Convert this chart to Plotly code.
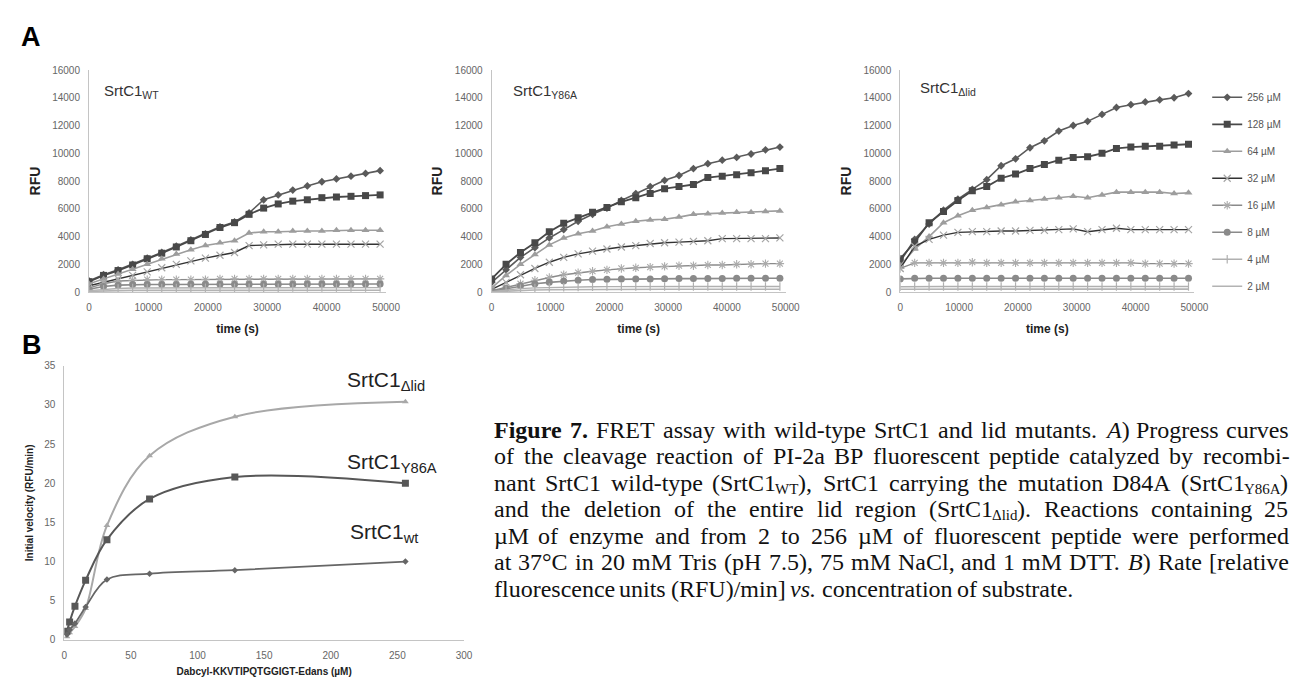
import plotly.graph_objects as go

W, H = 1305, 688


def px(x):
    return x / W


def py(y):
    return 1 - y / H


# ---------------- data ----------------
times = [0, 2450, 4900, 7350, 9800, 12250, 14700, 17150, 19600, 22050, 24500,
         26950, 29400, 31850, 34300, 36750, 39200, 41650, 44100, 46550, 49000]
conc_labels = ["256 µM", "128 µM", "64 µM", "32 µM", "16 µM", "8 µM", "4 µM", "2 µM"]

# SrtC1 WT progress curves (RFU)
wt_256 = [800, 1250, 1600, 2000, 2450, 2850, 3300, 3750, 4200, 4700, 5050, 5700, 6650, 7000, 7350, 7650, 7950, 8150, 8350, 8550, 8750]
wt_128 = [750, 1200, 1550, 1950, 2400, 2800, 3250, 3700, 4150, 4650, 5000, 5600, 6050, 6350, 6550, 6650, 6800, 6850, 6900, 6950, 7000]
wt_64 = [600, 950, 1300, 1650, 2000, 2400, 2750, 3050, 3350, 3550, 3700, 4250, 4350, 4350, 4400, 4400, 4400, 4450, 4450, 4450, 4450]
wt_32 = [450, 700, 950, 1200, 1450, 1750, 2000, 2250, 2450, 2650, 2850, 3350, 3400, 3450, 3450, 3450, 3450, 3450, 3450, 3450, 3450]
wt_16 = [300, 600, 800, 850, 900, 900, 900, 900, 900, 950, 950, 950, 950, 950, 950, 950, 950, 950, 950, 950, 950]
wt_8 = [200, 400, 500, 550, 550, 550, 550, 560, 560, 560, 570, 570, 570, 570, 570, 580, 580, 580, 580, 580, 580]
wt_4 = [100, 200, 260, 290, 300, 300, 300, 300, 310, 310, 310, 310, 310, 310, 320, 320, 320, 320, 320, 320, 320]
wt_2 = [50, 90, 110, 120, 120, 120, 120, 120, 120, 120, 125, 125, 125, 125, 125, 130, 130, 130, 130, 130, 130]

# SrtC1 Y86A progress curves (RFU)
y86a_256 = [700, 1600, 2500, 3200, 3900, 4500, 5100, 5600, 6050, 6600, 7100, 7600, 8050, 8400, 8900, 9250, 9500, 9700, 9950, 10250, 10450]
y86a_128 = [950, 2000, 2850, 3550, 4350, 4950, 5350, 5750, 6100, 6500, 6800, 7100, 7450, 7600, 7750, 8250, 8350, 8450, 8600, 8750, 8900]
y86a_64 = [300, 1200, 2000, 2700, 3400, 3900, 4200, 4400, 4700, 4900, 5100, 5200, 5250, 5400, 5600, 5650, 5700, 5750, 5750, 5800, 5850]
y86a_32 = [200, 700, 1250, 1700, 2150, 2500, 2750, 2950, 3100, 3250, 3350, 3500, 3550, 3600, 3650, 3700, 3850, 3850, 3850, 3850, 3900]
y86a_16 = [100, 350, 600, 850, 1050, 1250, 1400, 1500, 1600, 1700, 1750, 1800, 1850, 1900, 1900, 1950, 1950, 2000, 2000, 2050, 2050]
y86a_8 = [50, 250, 450, 600, 700, 800, 850, 900, 920, 940, 950, 950, 960, 970, 970, 980, 980, 990, 990, 1000, 1000]
y86a_4 = [30, 150, 250, 300, 330, 350, 370, 380, 390, 400, 400, 400, 400, 400, 400, 400, 400, 400, 400, 400, 400]
y86a_2 = [20, 80, 120, 150, 170, 180, 190, 200, 200, 200, 200, 200, 200, 200, 200, 200, 200, 200, 200, 200, 200]

# SrtC1 delta-lid progress curves (RFU)
lid_256 = [2200, 3800, 4900, 5900, 6700, 7400, 8100, 9100, 9600, 10400, 10900, 11600, 12000, 12300, 12800, 13300, 13500, 13700, 13850, 14000, 14300]
lid_128 = [2400, 3600, 5000, 5800, 6600, 7300, 7600, 8200, 8500, 8900, 9200, 9500, 9700, 9750, 10000, 10350, 10450, 10500, 10500, 10600, 10650]
lid_64 = [1900, 3100, 4000, 5000, 5500, 5900, 6100, 6300, 6500, 6600, 6700, 6800, 6900, 6800, 7000, 7200, 7200, 7200, 7200, 7100, 7150]
lid_32 = [1700, 3300, 3800, 4100, 4300, 4350, 4350, 4400, 4400, 4450, 4450, 4500, 4550, 4350, 4500, 4600, 4500, 4500, 4500, 4500, 4500]
lid_16 = [1700, 2100, 2100, 2100, 2100, 2150, 2100, 2100, 2100, 2100, 2100, 2100, 2100, 2100, 2100, 2100, 2100, 2050, 2050, 2050, 2050]
lid_8 = [950, 1000, 1000, 1000, 1000, 1000, 1000, 1000, 1000, 1000, 1000, 1000, 1000, 1000, 1000, 1000, 1000, 1000, 1000, 1000, 1000]
lid_4 = [380, 400, 400, 400, 400, 400, 400, 400, 400, 400, 400, 400, 400, 400, 400, 400, 400, 400, 400, 400, 400]
lid_2 = [200, 210, 210, 210, 210, 210, 210, 210, 210, 210, 210, 210, 210, 210, 210, 210, 210, 210, 210, 210, 210]

# Panel B: initial velocity (RFU/min) vs substrate (µM)
conc_B = [2, 4, 8, 16, 32, 64, 128, 256]
vel_lid = [0.4, 0.9, 1.7, 4.0, 14.6, 23.5, 28.5, 30.4]
vel_y86a = [1.1, 2.3, 4.3, 7.6, 12.8, 18.0, 20.8, 20.0]
vel_wt = [0.7, 1.3, 2.1, 4.2, 7.7, 8.45, 8.9, 10.0]

A_ticks_y = [0, 2000, 4000, 6000, 8000, 10000, 12000, 14000, 16000]
A_ticks_x = [0, 10000, 20000, 30000, 40000, 50000]
B_ticks_y = [0, 5, 10, 15, 20, 25, 30, 35]
B_ticks_x = [0, 50, 100, 150, 200, 250, 300]

caption_lines = [
    "**Figure** **7.** FRET assay with wild-type SrtC1 and lid mutants. *A*) Progress curves",
    "of the cleavage reaction of PI-2a BP fluorescent peptide catalyzed by recombi-",
    "nant SrtC1 wild-type (SrtC1_{WT}), SrtC1 carrying the mutation D84A (SrtC1_{Y86A})",
    "and the deletion of the entire lid region (SrtC1_{Δlid}). Reactions containing 25",
    "µM of enzyme and from 2 to 256 µM of fluorescent peptide were performed",
    "at 37°C in 20 mM Tris (pH 7.5), 75 mM NaCl, and 1 mM DTT. *B*) Rate [relative",
    "fluorescence units (RFU)/min] *vs.* concentration of substrate.",
]

panels = [
    ("", [wt_256, wt_128, wt_64, wt_32, wt_16, wt_8, wt_4, wt_2], "SrtC1<sub>WT</sub>"),
    ("2", [y86a_256, y86a_128, y86a_64, y86a_32, y86a_16, y86a_8, y86a_4, y86a_2], "SrtC1<sub>Y86A</sub>"),
    ("3", [lid_256, lid_128, lid_64, lid_32, lid_16, lid_8, lid_4, lid_2], "SrtC1<sub>Δlid</sub>"),
]

# ---------------- styles ----------------
series_styles = [
    dict(mode="lines+markers", line=dict(color="#5a5a5a", width=1.6),
         marker=dict(symbol="diamond", size=6, color="#5a5a5a")),
    dict(mode="lines+markers", line=dict(color="#484848", width=1.8),
         marker=dict(symbol="square", size=7, color="#484848")),
    dict(mode="lines+markers", line=dict(color="#9d9d9d", width=1.6),
         marker=dict(symbol="triangle-up", size=7, color="#9d9d9d")),
    dict(mode="lines+markers", line=dict(color="#333333", width=1.4),
         marker=dict(symbol="x-thin-open", size=7, color="#a5a5a5", line=dict(width=1.2, color="#a5a5a5"))),
    dict(mode="lines+markers", line=dict(color="#8a8a8a", width=1.4),
         marker=dict(symbol="asterisk-open", size=7, color="#ababab", line=dict(width=1.1, color="#ababab"))),
    dict(mode="lines+markers", line=dict(color="#8a8a8a", width=1.6),
         marker=dict(symbol="circle", size=7, color="#8a8a8a")),
    dict(mode="lines+markers", line=dict(color="#b0b0b0", width=1.4),
         marker=dict(symbol="line-ns-open", size=6, color="#b0b0b0", line=dict(width=1.2, color="#b0b0b0"))),
    dict(mode="lines", line=dict(color="#b3b3b3", width=1.6)),
]

FONT = "Liberation Sans, Arial, sans-serif"
SERIF = "Liberation Serif, Times New Roman, serif"
TICKC = "#666666"

fig = go.Figure()

for suffix, series, _title in panels:
    for i, vals in enumerate(series):
        st = series_styles[i]
        fig.add_trace(go.Scatter(
            x=times, y=vals, name=conc_labels[i],
            xaxis="x" + suffix, yaxis="y" + suffix,
            showlegend=(suffix == "3"), legendgroup=conc_labels[i],
            hoverinfo="skip", **st))

fig.add_trace(go.Scatter(x=conc_B, y=vel_lid, xaxis="x4", yaxis="y4", mode="lines+markers",
                         line=dict(color="#a8a8a8", width=2, shape="spline"),
                         marker=dict(symbol="triangle-up", size=6, color="#a8a8a8"), showlegend=False))
fig.add_trace(go.Scatter(x=conc_B, y=vel_y86a, xaxis="x4", yaxis="y4", mode="lines+markers",
                         line=dict(color="#575757", width=2, shape="spline"),
                         marker=dict(symbol="square", size=7, color="#575757"), showlegend=False))
fig.add_trace(go.Scatter(x=conc_B, y=vel_wt, xaxis="x4", yaxis="y4", mode="lines+markers",
                         line=dict(color="#666666", width=1.8, shape="spline"),
                         marker=dict(symbol="diamond", size=5, color="#666666"), showlegend=False))

# ---------------- axes ----------------
A_x = [(79, 380), (487, 785), (901, 1199)]
A_top, A_bot = 57, 283


def axis_common():
    return dict(showgrid=False, zeroline=False, showline=True, linecolor="#c4c4c4", linewidth=1,
                ticks="", tickformat="d", tickfont=dict(family=FONT, size=10, color=TICKC))


layout = dict()
for k, (x0, x1) in enumerate(A_x):
    suf = "" if k == 0 else str(k + 1)
    xa = axis_common()
    xa.update(domain=[px(x0), px(x1)], range=[0, 50000], tickvals=A_ticks_x,
              anchor="y" + suf, ticklabelstandoff=6,
              title=dict(text="<b>time (s)</b>", font=dict(family=FONT, size=12, color="#222"), standoff=12))
    ya = axis_common()
    ya.update(domain=[py(A_bot), py(A_top)], range=[0, 16000], tickvals=A_ticks_y,
              anchor="x" + suf, ticklabelstandoff=6,
              title=dict(text="<b>RFU</b>", font=dict(family=FONT, size=14, color="#222"), standoff=8))
    layout["xaxis" + suf] = xa
    layout["yaxis" + suf] = ya

xb = axis_common()
xb.update(domain=[px(54), px(459)], range=[0, 300], tickvals=B_ticks_x, anchor="y4",
          ticklabelstandoff=6,
          title=dict(text="<b>Dabcyl-KKVTIPQTGGIGT-Edans (µM)</b>", font=dict(family=FONT, size=10, color="#222"), standoff=8))
yb = axis_common()
yb.update(domain=[py(637), py(358)], range=[0, 35], tickvals=B_ticks_y, anchor="x4",
          ticklabelstandoff=6,
          title=dict(text="<b>Initial velocity (RFU/min)</b>", font=dict(family=FONT, size=10, color="#222"), standoff=8))
layout["xaxis4"] = xb
layout["yaxis4"] = yb

annotations = []
# panel letters
annotations.append(dict(text="<b>A</b>", x=px(8), y=py(23), xref="paper", yref="paper", xanchor="left",
                        yanchor="middle", showarrow=False, font=dict(family=FONT, size=27, color="#000")))
annotations.append(dict(text="<b>B</b>", x=px(9), y=py(337), xref="paper", yref="paper", xanchor="left",
                        yanchor="middle", showarrow=False, font=dict(family=FONT, size=27, color="#000")))
# panel titles in A
title_pos = [(92, 79), (507, 79), (919, 76)]
for (suffix, _s, title), (tx, ty) in zip(panels, title_pos):
    annotations.append(dict(text=title, x=px(tx), y=py(ty), xref="paper", yref="paper", xanchor="left",
                            yanchor="middle", showarrow=False, font=dict(family=FONT, size=15, color="#333")))
# series labels in B
for txt, xv, yv in [("SrtC1<sub>Δlid</sub>", 211, 33.0), ("SrtC1<sub>Y86A</sub>", 211, 22.6),
                    ("SrtC1<sub>wt</sub>", 213, 13.6)]:
    annotations.append(dict(text=txt, x=xv, y=yv, xref="x4", yref="y4", xanchor="left", yanchor="middle",
                            showarrow=False, font=dict(family=FONT, size=21, color="#222")))

# ---------------- caption (justified, word by word, Times metrics) ----------------
REG = {" ": 250, ".": 250, ",": 250, "(": 333, ")": 333, "[": 333, "]": 333, "-": 333, "/": 278,
       ":": 278, "°": 400, "µ": 500, "Δ": 612, "%": 833}
REG.update(dict(zip("abcdefghijklmnopqrstuvwxyz",
                    [444, 500, 444, 500, 444, 333, 500, 500, 278, 278, 500, 278, 778, 500, 500, 500, 500,
                     333, 389, 278, 500, 500, 722, 500, 500, 444])))
REG.update(dict(zip("ABCDEFGHIJKLMNOPQRSTUVWXYZ",
                    [722, 667, 667, 722, 611, 556, 722, 722, 333, 389, 722, 611, 889, 722, 722, 556, 722,
                     667, 556, 611, 722, 722, 944, 722, 722, 611])))
REG.update({d: 500 for d in "0123456789"})
BOLD = dict(REG)
BOLD.update({"F": 611, "u": 556, "r": 444})
ITAL = dict(REG)
ITAL.update({"A": 611, "B": 611, "v": 444})
TABLES = {"r": REG, "b": BOLD, "i": ITAL, "s": REG}

CAP_SIZE = 24
SUB_SIZE = 15
CAP_LEFT, CAP_RIGHT = 488, 1293
CAP_BASE0, CAP_STEP = 431, 27


def parse_token(tok):
    runs, buf, style, i = [], "", "r", 0
    while i < len(tok):
        if tok.startswith("**", i):
            if buf:
                runs.append((buf, style))
            buf = ""
            style = "r" if style == "b" else "b"
            i += 2
        elif tok[i] == "*":
            if buf:
                runs.append((buf, style))
            buf = ""
            style = "r" if style == "i" else "i"
            i += 1
        elif tok.startswith("_{", i):
            if buf:
                runs.append((buf, style))
            buf = ""
            j = tok.index("}", i)
            runs.append((tok[i + 2:j], "s"))
            i = j + 1
        else:
            buf += tok[i]
            i += 1
    if buf:
        runs.append((buf, style))
    return runs


def run_width(text, style):
    size = SUB_SIZE if style == "s" else CAP_SIZE
    return sum(TABLES[style].get(c, 500) for c in text) * size / 1000.0


def group_runs(runs):
    """Merge consecutive non-subscript runs into one marked-up piece."""
    pieces, cur, cur_w = [], "", 0.0
    for text, style in runs:
        if style == "s":
            if cur:
                pieces.append((cur, "n", cur_w))
            cur, cur_w = "", 0.0
            pieces.append((text, "s", run_width(text, "s")))
        else:
            cur += {"b": "<b>%s</b>", "i": "<i>%s</i>"}.get(style, "%s") % text
            cur_w += run_width(text, style)
    if cur:
        pieces.append((cur, "n", cur_w))
    return pieces


for k, line in enumerate(caption_lines):
    tokens = [group_runs(parse_token(t)) for t in line.split(" ")]
    widths = [sum(p[2] for p in pieces) for pieces in tokens]
    space = 0.25 * CAP_SIZE
    if k < len(caption_lines) - 1 and len(tokens) > 1:
        gap = (CAP_RIGHT - CAP_LEFT - sum(widths)) / (len(tokens) - 1)
    else:
        gap = space
    base = CAP_BASE0 + CAP_STEP * k
    xcur = CAP_LEFT
    for pieces, wdt in zip(tokens, widths):
        xr = xcur
        for shown, kind, pw in pieces:
            if kind == "s":
                size, yc = SUB_SIZE, base + 3 - 0.3375 * SUB_SIZE
            else:
                size, yc = CAP_SIZE, base - 0.3375 * CAP_SIZE
            annotations.append(dict(text=shown, x=px(xr), y=py(yc), xref="paper", yref="paper",
                                    xanchor="left", yanchor="middle", showarrow=False, borderpad=0,
                                    font=dict(family=SERIF, size=size, color="#111")))
            xr += pw
        xcur += wdt + gap

layout.update(
    width=W, height=H, margin=dict(l=0, r=0, t=0, b=0),
    paper_bgcolor="white", plot_bgcolor="white",
    annotations=annotations,
    showlegend=True,
    legend=dict(x=px(1212), y=py(70), xanchor="left", yanchor="top", tracegroupgap=8,
                font=dict(family=FONT, size=10, color="#555"), itemwidth=30,
                bgcolor="rgba(0,0,0,0)"),
)
fig.update_layout(**layout)

fig.write_html("out.html")
